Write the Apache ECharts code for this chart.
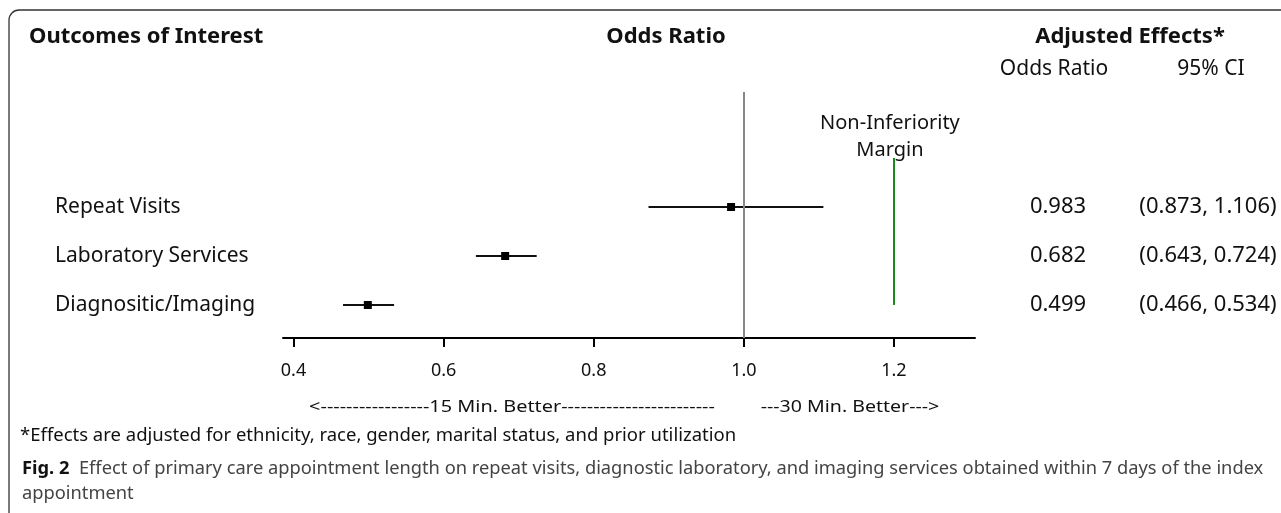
<!DOCTYPE html>
<html><head><meta charset="utf-8">
<script src="https://cdn.jsdelivr.net/npm/echarts@6/dist/echarts.min.js"></script>
<style>html,body{margin:0;padding:0;background:#fff}#c{width:1281px;height:513px}</style>
</head><body><div id="c"></div>
<script>
const outcomes = ['Repeat Visits', 'Laboratory Services', 'Diagnositic/Imaging'];
const oddsRatio = [0.983, 0.682, 0.499];
const ciLower = [0.873, 0.643, 0.466];
const ciUpper = [1.106, 0.724, 0.534];
const xTicks = [0.4, 0.6, 0.8, 1.0, 1.2];
const nullValue = 1.0;
const nonInferiorityMargin = 1.2;

const FONT = '"Noto Sans", "Open Sans", sans-serif';
const n = outcomes.length;
const data = outcomes.map((o, i) => [n - i, oddsRatio[i], ciLower[i], ciUpper[i]]);

const chart = echarts.init(document.getElementById('c'), null, {renderer: 'canvas'});

function txt(text, x, y, opt, extra) {
  return Object.assign({type: 'text', x: x, y: y, silent: true,
    style: Object.assign({text: text, fontFamily: FONT, fontSize: 20, fill: '#111',
      align: 'left', verticalAlign: 'middle'}, opt || {})}, extra || {});
}

chart.setOption({
  animation: false,
  backgroundColor: '#fff',
  grid: {left: 283, width: 692, top: 92, height: 246},
  xAxis: {
    type: 'value', min: 0.386, max: 1.308,
    axisLine: {show: true, onZero: false, lineStyle: {color: '#000', width: 2}},
    axisTick: {show: true, customValues: xTicks, length: 9, lineStyle: {color: '#000', width: 2}},
    axisLabel: {customValues: xTicks, formatter: v => v.toFixed(1), fontFamily: FONT,
      fontSize: 18, color: '#111', margin: 24},
    splitLine: {show: false}
  },
  yAxis: {
    type: 'value', min: 0.327, max: 5.347, show: false
  },
  series: [
    {
      type: 'line', data: [], silent: true,
      markLine: {
        silent: true, symbol: 'none', animation: false,
        data: [
          {xAxis: nullValue, lineStyle: {color: '#888', width: 2, type: 'solid'}, label: {show: false}},
          [
            {coord: [nonInferiorityMargin, 1], lineStyle: {color: '#1a8a1a', width: 2, type: 'solid'}},
            {coord: [nonInferiorityMargin, 4.0]}
          ]
        ],
        label: {
          show: true, position: 'end', formatter: 'Non-Inferiority\nMargin',
          fontFamily: FONT, fontSize: 20, lineHeight: 27, color: '#111', distance: -6, offset: [-4, 0]
        }
      }
    },
    {
      type: 'custom',
      data: data,
      encode: {x: [1, 2, 3], y: 0},
      clip: false,
      renderItem: function (params, api) {
        const i = params.dataIndex;
        const y = api.value(0);
        const lo = api.coord([api.value(2), y]);
        const hi = api.coord([api.value(3), y]);
        const c = api.coord([api.value(1), y]);
        const s = 8;
        return {type: 'group', children: [
          {type: 'line', shape: {x1: lo[0], y1: lo[1], x2: hi[0], y2: hi[1]}, style: {stroke: '#111', lineWidth: 2}},
          {type: 'rect', shape: {x: c[0] - s / 2, y: c[1] - s / 2, width: s, height: s}, style: {fill: '#000'}},
          {type: 'text', x: 55, y: c[1], style: {text: outcomes[i], fontFamily: FONT, fontSize: 21, fill: '#111', align: 'left', verticalAlign: 'middle'}},
          {type: 'text', x: 1058, y: c[1], style: {text: oddsRatio[i].toFixed(3), fontFamily: FONT, fontSize: 22, fill: '#111', align: 'center', verticalAlign: 'middle'}},
          {type: 'text', x: 1208, y: c[1], style: {text: '(' + ciLower[i].toFixed(3) + ', ' + ciUpper[i].toFixed(3) + ')', fontFamily: FONT, fontSize: 22, fill: '#111', align: 'center', verticalAlign: 'middle'}}
        ]};
      }
    }
  ],
  graphic: [
    {type: 'rect', silent: true, shape: {x: 9, y: 10, width: 1400, height: 700, r: [10, 0, 0, 0]},
      style: {fill: 'none', stroke: '#333', lineWidth: 1.3}},
    txt('Outcomes of Interest', 29, 37, {fontWeight: 'bold', fontSize: 22}),
    txt('Odds Ratio', 666, 37, {fontWeight: 'bold', align: 'center', fontSize: 22}),
    txt('Adjusted Effects*', 1130, 37, {fontWeight: 'bold', align: 'center', fontSize: 22}),
    txt('Odds Ratio', 1054, 69, {align: 'center', fontSize: 21}),
    txt('95% CI', 1211, 69, {align: 'center', fontSize: 21}),
    txt('<-----------------15 Min. Better------------------------', 512, 407, {align: 'center', fontSize: 17}, {scaleX: 1.17}),
    txt('---30 Min. Better--->', 850, 407, {align: 'center', fontSize: 17}, {scaleX: 1.15}),
    txt('*Effects are adjusted for ethnicity, race, gender, marital status, and prior utilization', 20, 436, {fontSize: 18.5}),
    {type: 'text', x: 22, y: 469, silent: true, style: {
      text: '{b|Fig. 2}  Effect of primary care appointment length on repeat visits, diagnostic laboratory, and imaging services obtained within 7 days of the index',
      fontFamily: FONT, fontSize: 18.3, fill: '#444', verticalAlign: 'middle',
      rich: {b: {fontFamily: FONT, fontSize: 18.3, fontWeight: 'bold', fill: '#111'}}}},
    txt('appointment', 22, 494, {fontSize: 18.3, fill: '#444'})
  ]
});
</script>
</body></html>
